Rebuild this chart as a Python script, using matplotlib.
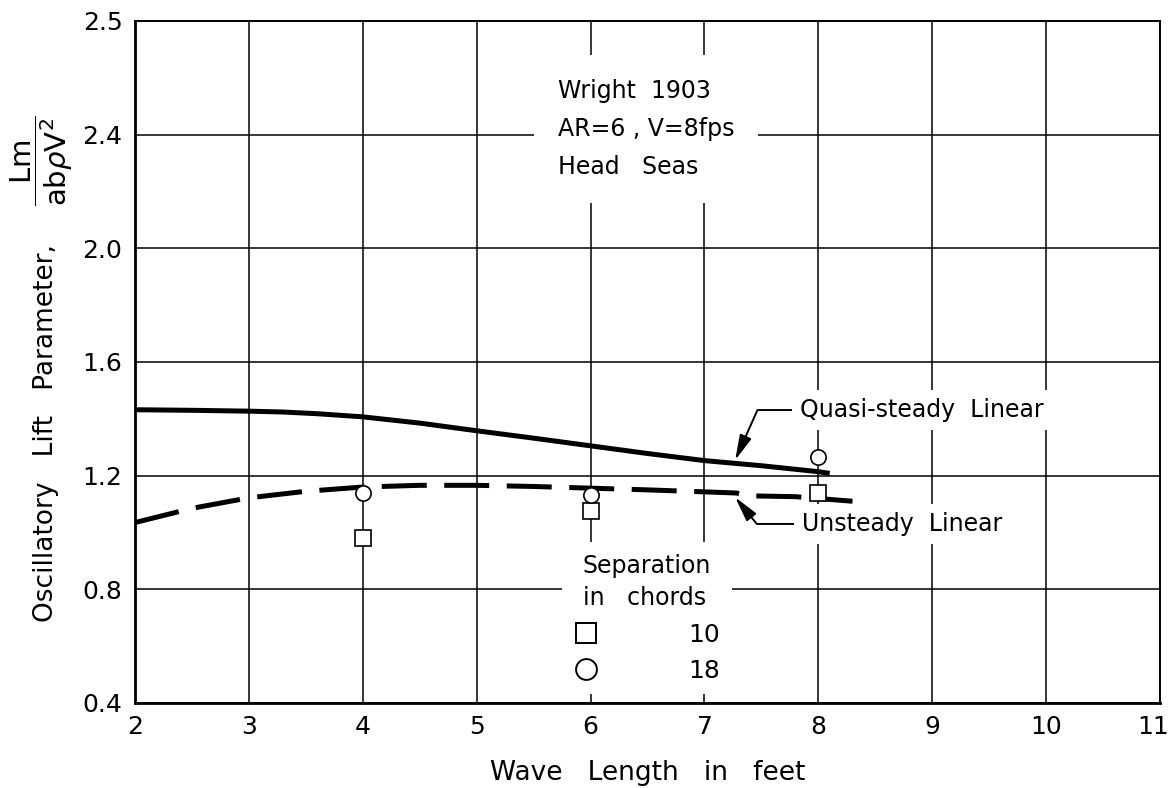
import matplotlib
matplotlib.use('Agg')
import matplotlib.pyplot as plt
from matplotlib.lines import Line2D
from matplotlib.transforms import ScaledTranslation

# wave length (ft) vs oscillatory lift parameter
quasi_x = [2.0, 2.5, 3.0, 3.3, 3.6, 4.0, 4.5, 5.0, 5.5, 6.0, 6.5, 7.0, 7.5, 8.0, 8.1]
quasi_y = [1.432, 1.430, 1.427, 1.424, 1.418, 1.407, 1.385, 1.358, 1.332, 1.305, 1.278, 1.253, 1.235, 1.214, 1.208]

unsteady_x = [2.0, 2.5, 3.0, 3.5, 4.0, 4.5, 5.0, 5.5, 6.0, 6.5, 7.0, 7.28, 7.4, 7.8, 8.3]
unsteady_y = [1.035, 1.085, 1.122, 1.145, 1.160, 1.166, 1.166, 1.162, 1.156, 1.150, 1.143, 1.139, 1.129, 1.126, 1.110]

sep10_x = [4, 6, 8]
sep10_y = [0.982, 1.074, 1.140]
sep18_x = [4, 6, 8]
sep18_y = [1.140, 1.133, 1.267]

x_ticks = [2, 3, 4, 5, 6, 7, 8, 9, 10, 11]
y_ticks = [0.4, 0.8, 1.2, 1.6, 2.0, 2.4, 2.8]
y_tick_labels = ['0.4', '0.8', '1.2', '1.6', '2.0', '2.4', '2.5']  # as printed on the original

plt.rcParams['font.family'] = ['DejaVu Sans']
plt.rcParams['mathtext.fontset'] = 'dejavusans'

fig = plt.figure(figsize=(11.72, 7.88), dpi=100)
ax = fig.add_axes([135 / 1172, 1 - 703 / 788, 1025 / 1172, 682 / 788])

ax.set_xlim(2, 11)
ax.set_ylim(0.4, 2.8)
ax.set_xticks(x_ticks)
ax.set_yticks(y_ticks)
ax.set_yticklabels(y_tick_labels)
ax.tick_params(length=0, labelsize=18, pad=9)
ax.grid(True, color='black', lw=1.1, zorder=0)
ax.set_axisbelow(True)
for side in ['left', 'bottom']:
    ax.spines[side].set_linewidth(2.0)
for side in ['top', 'right']:
    ax.spines[side].set_linewidth(1.4)

# last x label sits on the figure edge, nudge it in a little
last = ax.get_xticklabels()[-1]
last.set_transform(last.get_transform() + ScaledTranslation(-5 / 72, 0, fig.dpi_scale_trans))

ax.plot(quasi_x, quasi_y, color='black', lw=3.6, solid_capstyle='butt', zorder=3)
ax.plot(unsteady_x, unsteady_y, color='black', lw=3.6, dashes=(9, 3.5), zorder=3)

ax.plot(sep10_x, sep10_y, ls='none', marker='s', ms=12, mfc='white', mec='black', mew=1.2, zorder=4)
ax.plot(sep18_x, sep18_y, ls='none', marker='o', ms=11, mfc='white', mec='black', mew=1.2, zorder=4)

box = dict(boxstyle='square,pad=0.35', fc='white', ec='none')
arrow = dict(arrowstyle='-|>,head_length=0.9,head_width=0.22', color='black', lw=1.4,
             shrinkA=0, shrinkB=0, relpos=(0, 0.5))

ax.annotate('Quasi-steady  Linear', xy=(7.27, 1.255), xytext=(7.84, 1.431),
            fontsize=17, ha='left', va='center', bbox=box, zorder=5,
            arrowprops=dict(arrow, connectionstyle='angle,angleA=0,angleB=66,rad=0'))
ax.annotate('Unsteady  Linear', xy=(7.27, 1.124), xytext=(7.86, 1.030),
            fontsize=17, ha='left', va='center', bbox=box, zorder=5,
            arrowprops=dict(arrow, connectionstyle='angle,angleA=0,angleB=129,rad=0'))

ax.text(5.71, 2.42, 'Wright  1903\nAR=6 , V=8fps\nHead   Seas', fontsize=17,
        ha='left', va='center', linespacing=1.75,
        bbox=dict(boxstyle='square,pad=1.0', fc='white', ec='none'), zorder=5)

handles = [
    Line2D([], [], ls='none', marker='s', ms=15, mfc='white', mec='black', mew=1.4),
    Line2D([], [], ls='none', marker='o', ms=15, mfc='white', mec='black', mew=1.4),
]
leg = ax.legend(handles, ['10', '18'], title='Separation\nin   chords', fontsize=18,
                title_fontsize=17, loc='center', bbox_to_anchor=(0.4995, 0.124),
                frameon=True, fancybox=False, edgecolor='none', facecolor='white',
                framealpha=1, handlelength=1.0, handletextpad=3.6, labelspacing=0.5,
                borderpad=0.45)
leg.get_title().set_linespacing(1.45)
leg.set_zorder(2.2)  # under the spines, over the grid

ax.set_xlabel('Wave   Length   in   feet', fontsize=19, labelpad=15)
ax.set_ylabel('Oscillatory   Lift   Parameter,', fontsize=19)
ax.yaxis.set_label_coords(-0.074, 0.396)
ax.text(-0.091, 0.795, r'$\dfrac{\mathsf{Lm}}{\mathsf{ab}\rho\mathsf{V}^{2}}$', fontsize=21,
        rotation=90, ha='center', va='center', transform=ax.transAxes)

fig.savefig('out.png', dpi=100)
